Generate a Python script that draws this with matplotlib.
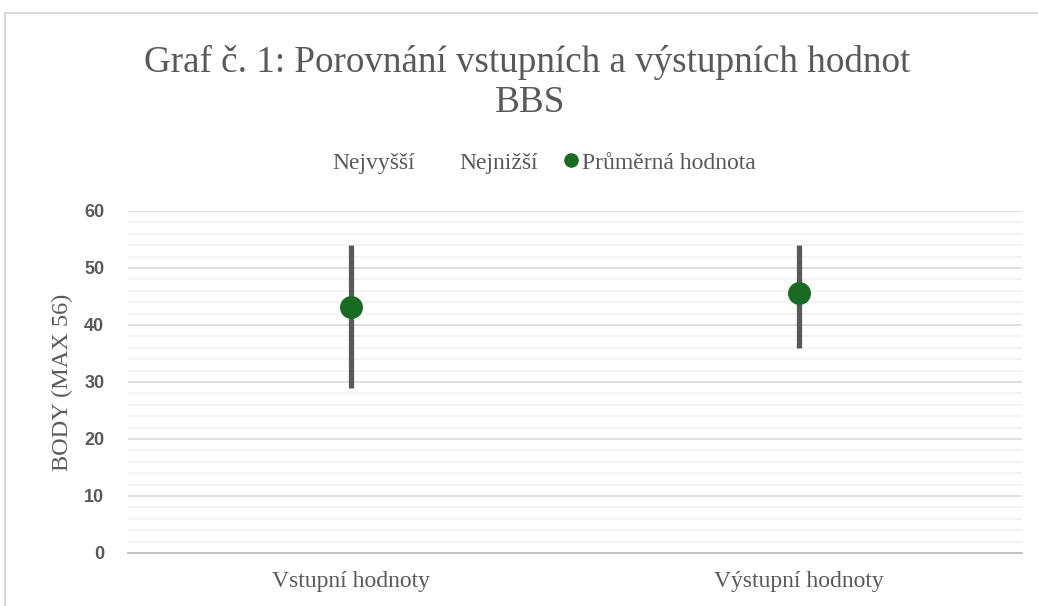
import matplotlib.pyplot as plt
from matplotlib.lines import Line2D
from matplotlib.patches import Rectangle

categories = ["Vstupní hodnoty", "Výstupní hodnoty"]
highs = [54, 54]
lows = [29, 36]
means = [43.2, 45.6]
title_lines = ["Graf č. 1: Porovnání vstupních a výstupních hodnot", "BBS"]
legend_labels = ["Nejvyšší", "Nejnižší", "Průměrná hodnota"]

grey = "#595959"
green = "#196B24"
serif = "Liberation Serif"

fig = plt.figure(figsize=(10.38, 6.06), dpi=100)
ax = fig.add_axes([0.1233, 0.0875, 0.8613, 0.5644])

x = list(range(len(categories)))
ax.vlines(x, lows, highs, colors=grey, linewidth=3.8, zorder=3)
ax.plot(x, means, linestyle="none", marker="o", markersize=15.5, color=green, zorder=4)

ax.set_xlim(-0.5, len(categories) - 0.5)
ax.set_ylim(0, 60)
ax.set_yticks(range(0, 61, 10))
ax.set_yticks(range(0, 61, 2), minor=True)
ax.yaxis.grid(True, which="major", color="#d9d9d9", linewidth=1.2)
ax.yaxis.grid(True, which="minor", color="#f2f2f2", linewidth=1.2)
ax.set_axisbelow(True)
for side in ["top", "right", "left"]:
    ax.spines[side].set_visible(False)
ax.spines["bottom"].set_color("#bfbfbf")
ax.spines["bottom"].set_linewidth(1.3)

ax.set_xticks(x)
ax.set_xticklabels(categories, family=serif, fontsize=17, color=grey)
ax.tick_params(axis="x", length=0, pad=13)
ax.tick_params(axis="y", which="both", length=0, pad=17)
for lab in ax.get_yticklabels():
    lab.set_family("Liberation Sans")
    lab.set_fontweight("bold")
    lab.set_fontsize(13)
    lab.set_color(grey)

ax.set_ylabel("BODY (MAX 56)", family=serif, fontsize=17.5, color=grey)
ax.yaxis.set_label_coords((73 - 128) / 894, 0.5)

fig.text(527.5 / 1038, 1 - 72 / 606, title_lines[0], ha="center", va="baseline",
         family=serif, fontsize=26.7, color=grey)
fig.text(530 / 1038, 1 - 112 / 606, title_lines[1], ha="center", va="baseline",
         family=serif, fontsize=26.7, color=grey)

handles = [
    Line2D([], [], linestyle="none"),
    Line2D([], [], linestyle="none"),
    Line2D([], [], linestyle="none", marker="o", markersize=9.5, color=green),
]
leg = fig.legend(handles, legend_labels, ncol=3,
                 loc="center", bbox_to_anchor=(536 / 1038, 1 - 163 / 606), frameon=False,
                 prop={"family": serif, "size": 17},
                 handlelength=0.51, handletextpad=0.19, columnspacing=1.16)
for t in leg.get_texts():
    t.set_color(grey)

fig.patches.append(Rectangle((5 / 1038, -0.1), 1.2, 1.1 - 13 / 606, transform=fig.transFigure,
                             fill=False, edgecolor="#d9d9d9", linewidth=1.5, zorder=0))

fig.savefig("out.png", dpi=100)
